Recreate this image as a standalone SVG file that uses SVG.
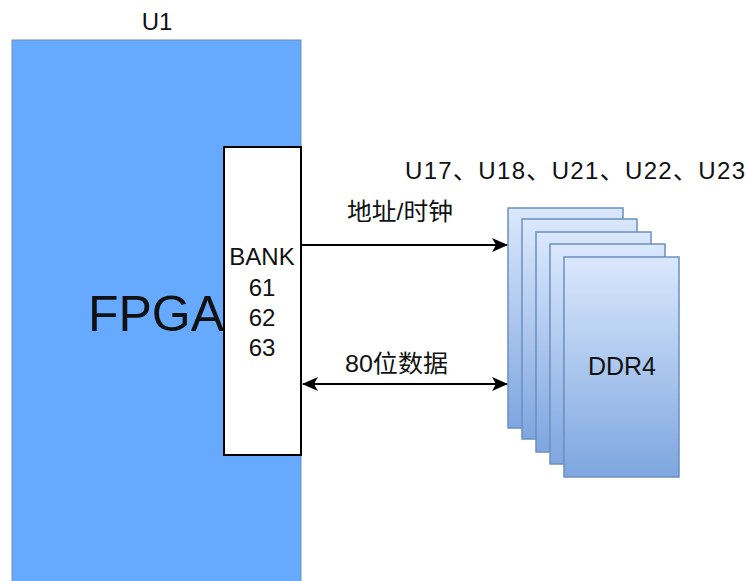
<svg xmlns="http://www.w3.org/2000/svg" width="747" height="581" viewBox="0 0 747 581">
<style>
.t{font-family:"Liberation Sans","Noto Sans CJK SC",sans-serif;fill:#111;}
.c{font-family:"Liberation Sans","Noto Sans CJK SC",sans-serif;fill:#111;}
.ddr{fill:url(#g);stroke:#6c8ebf;stroke-width:1.5;}
.ln{stroke:#000;stroke-width:2;fill:none;}
</style>
<defs>
<linearGradient id="g" x1="0" y1="0" x2="0" y2="1">
<stop offset="0" stop-color="#dae8fc"/>
<stop offset="1" stop-color="#7ea6e0"/>
</linearGradient>
<marker id="ah" viewBox="0 0 16 14" refX="15" refY="7" markerWidth="16" markerHeight="14" markerUnits="userSpaceOnUse" orient="auto-start-reverse">
<path d="M0,0 L16,7 L0,14 L4,7 Z" fill="#000"/>
</marker>
</defs>
<rect width="747" height="581" fill="#fff"/>
<g id="fpga">
<rect x="12" y="40" width="289" height="545" fill="#66aaff" stroke="#6c8ebf" stroke-width="1"/>
<text class="t" x="157" y="30" font-size="24" text-anchor="middle">U1</text>
<text class="t" x="156" y="331" font-size="50" text-anchor="middle">FPGA</text>
</g>
<g id="bank">
<rect x="224" y="147" width="77" height="308" fill="#fff" stroke="#000" stroke-width="2"/>
<text class="t" x="262" y="265" font-size="24" text-anchor="middle">BANK</text>
<text class="t" x="262" y="296" font-size="24" text-anchor="middle">61</text>
<text class="t" x="262" y="326" font-size="24" text-anchor="middle">62</text>
<text class="t" x="262" y="356" font-size="24" text-anchor="middle">63</text>
</g>
<g id="ddr4">
<rect class="ddr" x="508" y="208" width="115" height="220"/>
<rect class="ddr" x="522" y="219" width="115" height="220"/>
<rect class="ddr" x="536" y="232" width="115" height="220"/>
<rect class="ddr" x="550" y="244" width="115" height="220"/>
<rect class="ddr" x="564" y="257" width="115" height="220"/>
<text class="t" x="622" y="375" font-size="25" text-anchor="middle">DDR4</text>
<text class="c" x="405" y="179" font-size="24" textLength="340" lengthAdjust="spacing">U17、U18、U21、U22、U23</text>
</g>
<g id="connectors">
<line class="ln" x1="301" y1="245" x2="507" y2="245" marker-end="url(#ah)"/>
<line class="ln" x1="303" y1="384" x2="507" y2="384" marker-start="url(#ah)" marker-end="url(#ah)"/>
<text class="c" x="347" y="220" font-size="24" textLength="106" lengthAdjust="spacingAndGlyphs">地址/时钟</text>
<text class="c" x="345" y="372" font-size="24" textLength="103" lengthAdjust="spacingAndGlyphs">80位数据</text>
</g>
</svg>
